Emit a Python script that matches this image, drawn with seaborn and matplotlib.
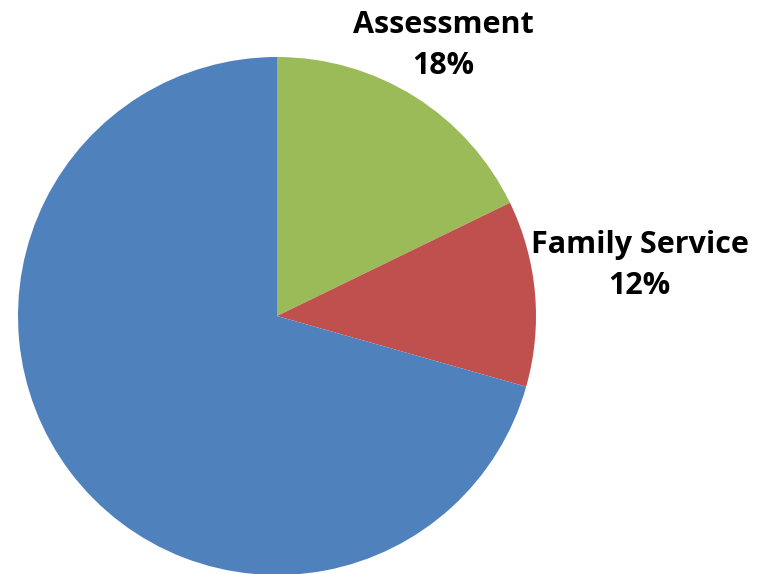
import matplotlib
matplotlib.use("Agg")
import matplotlib.pyplot as plt
import seaborn as sns

categories = ["Assessment", "Family Service", "Other"]
shares = [17.8, 11.6, 70.6]
show_label = [True, True, False]
colors = ["#9BBB59", "#C0504D", "#4F81BD"]

sns.set_theme(style="white")
plt.rcParams['font.family'] = ['Open Sans', 'DejaVu Sans']

fig = plt.figure(figsize=(7.59, 5.74), dpi=100)
W, H = 759, 574
cx, cy, r = 277, 316, 259
ax = fig.add_axes([(cx - r) / W, (H - cy - r) / H, 2 * r / W, 2 * r / H])
ax.set_axis_off()

wedges, _ = ax.pie(shares, colors=colors, startangle=90, counterclock=False,
                   radius=1, wedgeprops=dict(linewidth=0))
ax.set_xlim(-1, 1)
ax.set_ylim(-1, 1)
ax.set_aspect('auto')

# label positions (data coords, radius 1)
label_pos = [(0.641, 1.045), (1.40, 0.195)]
for name, val, show, pos in zip(categories, shares, show_label, label_pos + [None]):
    if not show:
        continue
    ax.text(pos[0], pos[1], f"{name}\n{round(val)}%", ha='center', va='center',
            fontsize=22, fontweight='bold', color='black', linespacing=1.5,
            clip_on=False)

fig.savefig("out.png", dpi=100)
